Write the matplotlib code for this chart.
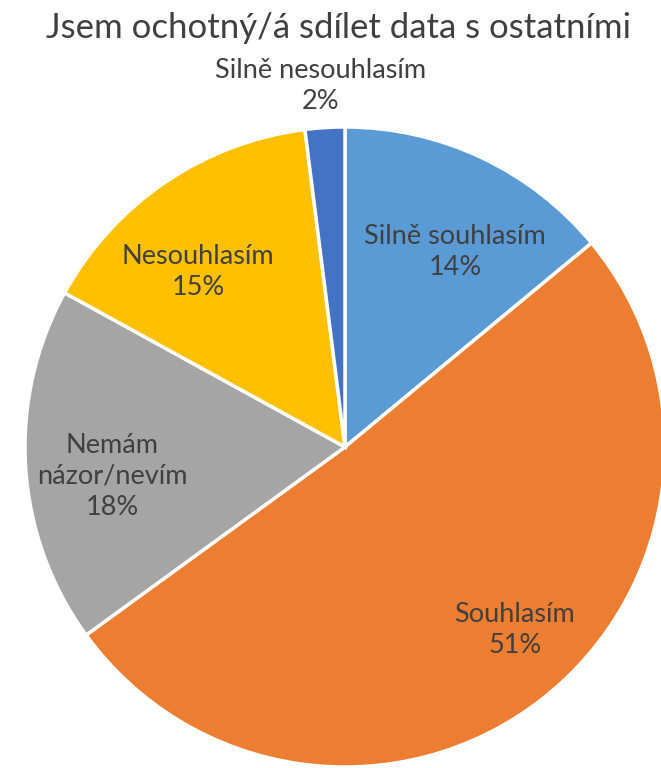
import numpy as np
import matplotlib
matplotlib.use('Agg')
import matplotlib.pyplot as plt

plt.rcParams['font.family'] = ['Lato', 'DejaVu Sans']

title = 'Jsem ochotný/á sdílet data s ostatními'
labels = ['Silně souhlasím', 'Souhlasím', 'Nemám\nnázor/nevím', 'Nesouhlasím', 'Silně nesouhlasím']
values = [14, 51, 18, 15, 2]
colors = ['#5B9BD5', '#ED7D31', '#A5A5A5', '#FFC000', '#4472C4']
# data label centres, in units of the pie radius
label_pos = [(0.344, 0.609), (0.531, -0.572), (-0.728, -0.091), (-0.459, 0.547), (-0.075, 1.128)]
text_color = '#404040'

fig = plt.figure(figsize=(6.61, 7.68), dpi=100)
# pie centre ~ (345, 447) px, radius ~ 320 px; it overflows the right/bottom edge
ax = fig.add_axes([25 / 661, 1 / 768, 640 / 661, 640 / 768])

wedges, _ = ax.pie(values, colors=colors, startangle=90, counterclock=False,
                   wedgeprops=dict(edgecolor='white', linewidth=2.5), radius=1)

total = sum(values)
for lab, v, (x, y) in zip(labels, values, label_pos):
    ax.text(x, y, '%s\n%d%%' % (lab, round(100 * v / total)), ha='center', va='center',
            fontsize=19.5, color=text_color, linespacing=1.3, clip_on=False)

ax.set_xlim(-1, 1)
ax.set_ylim(-1, 1)
ax.set_aspect('equal')
ax.axis('off')

fig.text(338 / 661, 1 - 28 / 768, title, ha='center', va='center', fontsize=25, color=text_color)

fig.savefig('out.png', dpi=100)
